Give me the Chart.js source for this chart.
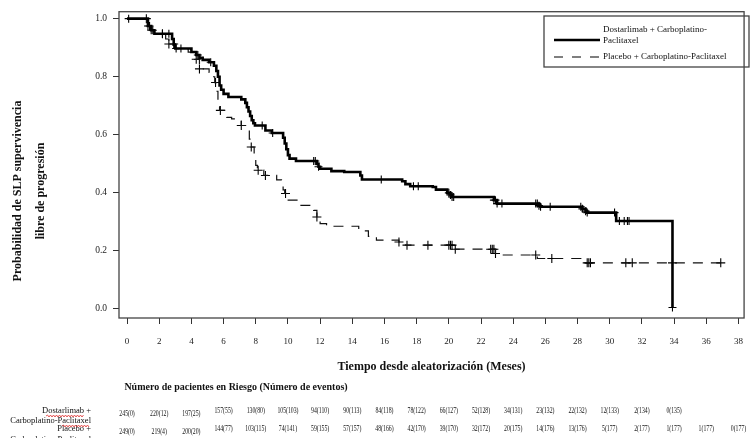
<!DOCTYPE html>
<html>
<head>
<meta charset="utf-8">
<script src="https://cdn.jsdelivr.net/npm/chart.js@4.4.1/dist/chart.umd.min.js"></script>
<style>
  html, body { margin: 0; padding: 0; background: #fff; }
  canvas { display: block; }
</style>
</head>
<body>
<canvas id="kmChart" width="755" height="438"></canvas>
<script>
// Series
const seriesNames = ["Dostarlimab + Carboplatino-Paclitaxel", "Placebo + Carboplatino-Paclitaxel"];

// Dostarlimab: tiempo (meses) en que la curva baja al valor indicado
const dostaTime = [0, 1.3, 1.5, 1.7, 2.8, 2.9, 3.0, 4.0, 4.3, 4.5, 4.7, 5.1, 5.4, 5.55, 5.65, 5.75, 5.85, 6.0, 6.3,
  7.1, 7.35, 7.45, 7.55, 7.65, 7.75, 7.85, 7.95, 8.6, 9.0, 9.7, 9.8, 9.9, 10.0, 10.1, 10.5, 11.8, 11.9, 12.0, 12.7,
  13.5, 14.5, 14.6, 17.1, 17.3, 17.6, 19.0, 19.2, 19.9, 20.1, 20.2, 22.8, 23.0, 25.6, 25.7, 28.3, 28.5, 28.6, 30.4, 33.9];
const dostaSurv = [1.0, 0.975, 0.96, 0.948, 0.93, 0.91, 0.897, 0.885, 0.875, 0.865, 0.858, 0.85, 0.838, 0.82, 0.80, 0.77, 0.755, 0.741, 0.73,
  0.722, 0.71, 0.695, 0.68, 0.665, 0.65, 0.64, 0.632, 0.615, 0.606, 0.59, 0.57, 0.55, 0.53, 0.518, 0.51, 0.50, 0.49, 0.483, 0.475,
  0.472, 0.46, 0.446, 0.44, 0.43, 0.423, 0.42, 0.411, 0.40, 0.393, 0.386, 0.375, 0.363, 0.356, 0.352, 0.345, 0.337, 0.332, 0.303, 0.005];
const dostaCensor = [0.1, 1.3, 1.4, 1.5, 1.6, 2.2, 2.6, 3.05, 3.35, 4.4, 5.2, 8.4, 9.05, 11.6, 11.7, 11.9, 15.8, 17.8, 18.1,
  20.0, 20.1, 20.2, 20.3, 22.8, 22.9, 23.0, 23.3, 25.4, 25.5, 25.6, 25.7, 26.3, 28.2, 28.3, 28.5, 28.6, 30.3, 30.6, 30.9, 31.1, 31.2, 33.9];

// Placebo
const placTime = [0, 1.3, 1.5, 1.7, 2.4, 2.6, 3.0, 3.8, 4.2, 4.5, 5.1, 5.3, 5.45, 5.55, 5.65, 5.75, 6.2, 6.5, 7.1, 7.45, 7.6, 7.7,
  7.9, 8.0, 8.1, 8.5, 9.3, 9.6, 9.7, 9.8, 9.9, 10.6, 11.6, 11.8, 12.0, 12.4, 14.4, 15.0, 15.5, 16.9, 17.3, 20.4, 22.9, 23.3,
  25.5, 28.2, 37.0];
const placSurv = [1.0, 0.975, 0.96, 0.948, 0.93, 0.913, 0.897, 0.885, 0.86, 0.827, 0.815, 0.80, 0.78, 0.75, 0.72, 0.684, 0.66, 0.655, 0.632, 0.62, 0.585, 0.558,
  0.52, 0.495, 0.478, 0.46, 0.445, 0.432, 0.41, 0.398, 0.375, 0.357, 0.34, 0.317, 0.294, 0.285, 0.269, 0.25, 0.237, 0.231, 0.22, 0.206, 0.191, 0.186,
  0.174, 0.159, 0.159];
const placCensor = [1.2, 2.2, 2.6, 2.9, 4.3, 4.5, 5.5, 5.8, 7.1, 7.72, 8.15, 8.6, 9.85, 11.8, 16.9, 17.4, 18.7, 20.0, 20.1, 20.2, 20.4,
  22.6, 22.7, 22.8, 22.9, 25.4, 26.4, 28.6, 28.7, 28.8, 31.0, 31.4, 33.9, 36.9];

// Ejes
const xTicks = [0, 2, 4, 6, 8, 10, 12, 14, 16, 18, 20, 22, 24, 26, 28, 30, 32, 34, 36, 38];
const yTicks = [0.0, 0.2, 0.4, 0.6, 0.8, 1.0];
const xTitle = "Tiempo desde aleatorización (Meses)";
const yTitle = ["Probabilidad de SLP supervivencia", "libre de progresión"];

// Tabla de pacientes en riesgo
const riskTitle = "Número de pacientes en Riesgo (Número de eventos)";
const dostaAtRisk = [245, 220, 197, 157, 130, 105, 94, 90, 84, 78, 66, 52, 34, 23, 22, 12, 2, 0];
const dostaEvents = [0, 12, 25, 55, 80, 103, 110, 113, 118, 122, 127, 128, 131, 132, 132, 133, 134, 135];
const placAtRisk = [249, 219, 200, 144, 103, 74, 59, 57, 48, 42, 39, 32, 20, 14, 13, 5, 2, 1, 1, 0];
const placEvents = [0, 4, 20, 77, 115, 141, 155, 157, 166, 170, 170, 172, 175, 176, 176, 177, 177, 177, 177, 177];

const serif = "'Liberation Serif', 'Times New Roman', serif";

function stepValue(times, surv, t) {
    let s = surv[0];
    for (let i = 0; i < times.length; i++) {
        if (times[i] <= t) s = surv[i];
    }
    return s;
}

function squiggle(ctx, x1, x2, y) {
    ctx.save();
    ctx.strokeStyle = "#e03030";
    ctx.lineWidth = 0.8;
    ctx.beginPath();
    let up = true;
    ctx.moveTo(x1, y);
    for (let x = x1 + 1.5; x <= x2; x += 1.5) {
        ctx.lineTo(x, up ? y - 1 : y + 1);
        up = !up;
    }
    ctx.stroke();
    ctx.restore();
}

function narrowText(ctx, text, x, y, sx) {
    ctx.save();
    ctx.translate(x, y);
    ctx.scale(sx, 1);
    ctx.fillText(text, 0, 0);
    ctx.restore();
}

// Marco, leyenda, títulos y tabla de riesgo
const extrasPlugin = {
    id: "extras",
    afterDraw(chart) {
        const ctx = chart.ctx;
        const a = chart.chartArea;
        const xs = chart.scales.x;
        ctx.save();

        // marco del gráfico
        ctx.strokeStyle = "#444";
        ctx.lineWidth = 1.3;
        ctx.strokeRect(a.left, a.top, a.right - a.left, a.bottom - a.top);

        // leyenda
        ctx.strokeRect(544, 16, 205, 51);
        ctx.strokeStyle = "#000";
        ctx.lineWidth = 2.6;
        ctx.beginPath(); ctx.moveTo(554, 40); ctx.lineTo(600, 40); ctx.stroke();
        ctx.lineWidth = 1.2;
        ctx.setLineDash([9, 9]);
        ctx.beginPath(); ctx.moveTo(554, 57); ctx.lineTo(600, 57); ctx.stroke();
        ctx.setLineDash([]);
        ctx.fillStyle = "#111";
        ctx.font = "9px " + serif;
        ctx.textAlign = "left";
        ctx.textBaseline = "middle";
        ctx.fillText("Dostarlimab + Carboplatino-", 603, 30);
        ctx.fillText("Paclitaxel", 603, 41);
        ctx.fillText(seriesNames[1], 603, 57);

        // títulos de ejes
        ctx.font = "bold 12px " + serif;
        ctx.textAlign = "center";
        ctx.fillText(xTitle, (a.left + a.right) / 2, 367);
        ctx.save();
        ctx.translate(18, 191);
        ctx.rotate(-Math.PI / 2);
        ctx.fillText(yTitle[0], 0, 0);
        ctx.fillText(yTitle[1], 0, 23);
        ctx.restore();

        // tabla de pacientes en riesgo
        ctx.font = "bold 10px " + serif;
        ctx.fillText(riskTitle, 236, 387);

        ctx.font = "8.5px " + serif;
        ctx.textAlign = "right";
        ctx.fillText("Dostarlimab +", 91, 411);
        ctx.fillText("Carboplatino-Paclitaxel", 91, 421);
        ctx.fillText("Placebo +", 91, 429);
        ctx.fillText("Carboplatino-Paclitaxel", 91, 440);
        squiggle(ctx, 46, 84, 416);
        squiggle(ctx, 62, 90, 426);

        ctx.font = "8px " + serif;
        ctx.textAlign = "center";
        dostaAtRisk.forEach((n, i) => {
            const y = i < 3 ? 414 : 411;
            narrowText(ctx, n + "(" + dostaEvents[i] + ")", xs.getPixelForValue(xTicks[i]), y, 0.72);
        });
        placAtRisk.forEach((n, i) => {
            const y = i < 3 ? 432 : 429;
            narrowText(ctx, n + "(" + placEvents[i] + ")", xs.getPixelForValue(xTicks[i]), y, 0.72);
        });

        ctx.restore();
    }
};

const ctxKm = document.getElementById("kmChart").getContext("2d");
const kmChart = new Chart(ctxKm, {
    type: "line",
    data: {
        datasets: [
            {
                label: seriesNames[0],
                data: dostaTime.map((t, i) => ({ x: t, y: dostaSurv[i] })),
                stepped: true,
                borderColor: "#000",
                borderWidth: 2.6,
                pointRadius: 0,
                fill: false
            },
            {
                label: seriesNames[1],
                data: placTime.map((t, i) => ({ x: t, y: placSurv[i] })),
                stepped: true,
                borderColor: "#111",
                borderWidth: 1.2,
                borderDash: [10, 8],
                pointRadius: 0,
                fill: false
            },
            {
                type: "scatter",
                label: "censura dostarlimab",
                data: dostaCensor.map(t => ({ x: t, y: stepValue(dostaTime, dostaSurv, t) })),
                pointStyle: "cross",
                pointRadius: 4,
                borderColor: "#000",
                pointBorderWidth: 1.1,
                showLine: false
            },
            {
                type: "scatter",
                label: "censura placebo",
                data: placCensor.map(t => ({ x: t, y: stepValue(placTime, placSurv, t) })),
                pointStyle: "cross",
                pointRadius: 4.5,
                borderColor: "#000",
                pointBorderWidth: 1.1,
                showLine: false
            }
        ]
    },
    options: {
        responsive: false,
        devicePixelRatio: 1,
        animation: false,
        layout: {
            padding: { left: 0, right: 3, top: 11, bottom: 0 }
        },
        plugins: {
            legend: { display: false },
            tooltip: { enabled: false }
        },
        scales: {
            x: {
                type: "linear",
                min: -0.5,
                max: 38.35,
                afterBuildTicks: scale => { scale.ticks = xTicks.map(v => ({ value: v })); },
                afterFit: scale => { scale.height = 120; },
                border: { display: false },
                grid: { drawOnChartArea: false, drawTicks: true, tickLength: 6, color: "#333" },
                ticks: {
                    color: "#222",
                    padding: 12,
                    maxRotation: 0,
                    autoSkip: false,
                    font: { family: serif, size: 9 }
                }
            },
            y: {
                type: "linear",
                min: -0.031,
                max: 1.024,
                afterBuildTicks: scale => { scale.ticks = yTicks.map(v => ({ value: v })); },
                afterFit: scale => { scale.width = 119; },
                border: { display: false },
                grid: { drawOnChartArea: false, drawTicks: true, tickLength: 6, color: "#333" },
                ticks: {
                    color: "#222",
                    padding: 6,
                    callback: v => Number(v).toFixed(1),
                    font: { family: serif, size: 9.5 }
                }
            }
        }
    },
    plugins: [extrasPlugin]
});
</script>
</body>
</html>
